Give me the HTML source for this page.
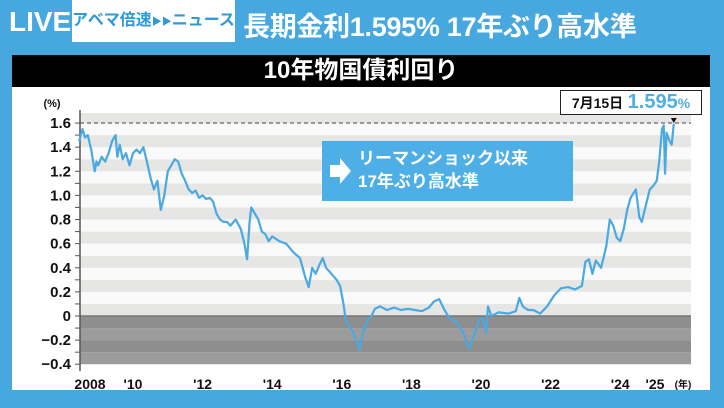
<!DOCTYPE html>
<html><head><meta charset="utf-8">
<style>
body{margin:0;width:724px;height:408px;overflow:hidden;background:#46a8df;font-family:"Liberation Sans","Noto Sans CJK JP",sans-serif;position:relative}
.abs{position:absolute}
</style></head><body>
<div class="abs" style="left:9px;top:6px;font-size:28px;color:#fff;font-weight:bold">LIVE</div>
<div class="abs" style="left:72px;top:0;width:163px;height:42px;background:#fff;color:#2e9bd8;font-size:16px;font-weight:bold;line-height:42px;text-align:center;white-space:nowrap;overflow:hidden">アベマ倍速<span style="font-size:10px">▶▶</span>ニュース</div>
<div class="abs" style="left:243px;top:5px;font-size:27px;color:#fff;font-weight:bold;white-space:nowrap;letter-spacing:-0.3px">長期金利1.595% 17年ぶり高水準</div>
<div class="abs" style="left:12px;top:55px;width:698px;height:32px;background:#000;color:#fff;font-size:24px;font-weight:bold;text-align:center;line-height:32px">10年物国債利回り</div>
<div class="abs" style="left:12px;top:87px;width:698px;height:303px;background:#fff"></div>
<svg class="abs" style="left:0;top:0" width="724" height="408">
<g id="bands"></g><g id="axis"></g><g id="line"></g>
</svg>
<div class="abs" style="left:322px;top:141px;width:251px;height:60px;background:#4eaee6;color:#fff">
<svg class="abs" style="left:8px;top:17px" width="22" height="26"><polygon points="0,7 10,7 10,0 21,13 10,26 10,19 0,19" fill="#fff"/></svg>
<div class="abs" style="left:36px;top:6px;font-size:17px;font-weight:bold;line-height:23px;white-space:nowrap">リーマンショック以来<br>17年ぶり高水準</div>
</div>
<div class="abs" style="left:560px;top:90px;width:140px;height:23px;background:#fff;border:1px solid #222;font-weight:bold;white-space:nowrap;line-height:23px;text-align:center">
<span style="font-size:14px;color:#111">7月15日</span> <span style="font-size:20px;color:#4eaee6">1.595</span><span style="font-size:14px;color:#4eaee6">%</span>
</div>
<script>
const yTicks=[1.6,1.4,1.2,1.0,0.8,0.6,0.4,0.2,0,-0.2,-0.4];
const yTickLabels=["1.6","1.4","1.2","1.0","0.8","0.6","0.4","0.2","0","−0.2","−0.4"];
const xYears=[2008,2010,2012,2014,2016,2018,2020,2022,2024,2025];
const xLabels=["2008","'10","'12","'14","'16","'18","'20","'22","'24","'25"];
const times=[2008.45,2008.55,2008.62,2008.7,2008.8,2008.9,2008.95,2009.0,2009.1,2009.2,2009.3,2009.4,2009.5,2009.55,2009.62,2009.7,2009.8,2009.9,2010.0,2010.1,2010.2,2010.3,2010.4,2010.5,2010.6,2010.7,2010.8,2010.9,2011.0,2011.1,2011.2,2011.3,2011.4,2011.5,2011.6,2011.7,2011.8,2011.9,2012.0,2012.1,2012.2,2012.3,2012.4,2012.5,2012.6,2012.7,2012.8,2012.95,2013.1,2013.2,2013.28,2013.35,2013.4,2013.5,2013.6,2013.7,2013.8,2013.9,2014.0,2014.2,2014.4,2014.6,2014.8,2014.95,2015.05,2015.15,2015.25,2015.35,2015.45,2015.55,2015.7,2015.85,2015.95,2016.05,2016.12,2016.2,2016.3,2016.42,2016.5,2016.55,2016.65,2016.75,2016.85,2016.95,2017.1,2017.3,2017.5,2017.7,2017.9,2018.1,2018.3,2018.5,2018.65,2018.8,2018.95,2019.1,2019.3,2019.45,2019.55,2019.65,2019.75,2019.85,2019.95,2020.05,2020.15,2020.2,2020.3,2020.5,2020.8,2021.0,2021.1,2021.2,2021.35,2021.5,2021.7,2021.9,2022.1,2022.3,2022.5,2022.7,2022.9,2023.0,2023.1,2023.2,2023.3,2023.45,2023.6,2023.7,2023.8,2023.9,2024.0,2024.1,2024.2,2024.3,2024.45,2024.55,2024.62,2024.72,2024.85,2024.95,2025.05,2025.12,2025.2,2025.25,2025.29,2025.33,2025.42,2025.48,2025.54];
const yields=[1.45,1.55,1.48,1.50,1.38,1.20,1.28,1.25,1.32,1.28,1.35,1.45,1.50,1.32,1.42,1.30,1.35,1.25,1.35,1.38,1.35,1.40,1.28,1.15,1.05,1.12,0.88,1.00,1.20,1.25,1.30,1.28,1.18,1.12,1.05,1.02,1.04,0.98,1.00,0.97,0.98,0.95,0.85,0.80,0.78,0.78,0.75,0.80,0.72,0.60,0.47,0.78,0.90,0.85,0.80,0.70,0.68,0.62,0.66,0.62,0.60,0.53,0.48,0.32,0.24,0.40,0.35,0.42,0.48,0.40,0.35,0.30,0.25,0.10,-0.05,-0.08,-0.12,-0.20,-0.28,-0.22,-0.10,-0.03,0.0,0.06,0.08,0.05,0.07,0.05,0.06,0.05,0.04,0.07,0.12,0.14,0.05,-0.02,-0.05,-0.12,-0.18,-0.27,-0.20,-0.12,-0.03,-0.02,-0.14,0.08,0.0,0.03,0.02,0.04,0.15,0.08,0.05,0.05,0.02,0.08,0.17,0.23,0.24,0.22,0.25,0.45,0.47,0.35,0.46,0.40,0.58,0.80,0.75,0.65,0.62,0.72,0.88,0.98,1.05,0.82,0.78,0.90,1.05,1.08,1.12,1.28,1.55,1.58,1.18,1.52,1.45,1.42,1.595];
const NS="http://www.w3.org/2000/svg";
const X=t=>133+(t-2010)*34.8;
const Y=v=>316-v*120.6;
const L=80,R=691,T=113,B=371;
function mk(tag,attrs,parent){const e=document.createElementNS(NS,tag);for(const k in attrs)e.setAttribute(k,attrs[k]);parent.appendChild(e);return e;}
const bands=document.getElementById('bands'),axis=document.getElementById('axis'),line=document.getElementById('line');
for(let i=-4;i<17;i++){const v0=i/10,v1=(i+1)/10;const y0=Math.max(Y(v1),T),y1=Math.min(Y(v0),B);if(y1<=y0)continue;
 let fill;if(i<0)fill=(i%2===0)?'#9c9c9c':'#8e8e8e';else fill=(i%2===0)?'#e6e6e4':'#fafafa';
 const r=mk('rect',{x:L,y:y0,width:R-L,height:y1-y0,fill:fill},bands);
 
 }
const zl=mk('line',{x1:L,x2:R,y1:Y(0),y2:Y(0),stroke:'#777','stroke-width':1.5},axis);


const dl=mk('line',{x1:L,x2:R,y1:Y(1.6),y2:Y(1.6),stroke:'#444','stroke-width':1,'stroke-dasharray':'4,3'},axis);


const ya=mk('line',{x1:L,x2:L,y1:T-3,y2:B,stroke:'#555','stroke-width':1.5},axis);


for(let i=-4;i<=16;i++){mk('line',{x1:L-5,x2:L,y1:Y(i/10),y2:Y(i/10),stroke:'#555','stroke-width':1},axis);}
yTicks.forEach((v,i)=>{const t=mk('text',{x:71,y:Y(v)+5,'text-anchor':'end','font-size':15,'font-weight':'bold',fill:'#111'},axis);t.textContent=yTickLabels[i];
 
 });
const u=mk('text',{x:52,y:107,'font-size':11,'font-weight':'bold',fill:'#111','text-anchor':'middle'},axis);u.textContent='(%)';


xYears.forEach((yr,i)=>{const cx=i===0?90:X(yr);const t=mk('text',{x:cx,y:389,'text-anchor':'middle','font-size':14,'font-weight':'bold',fill:'#111'},axis);t.textContent=xLabels[i];
 
 });
const xu=mk('text',{x:683,y:388,'font-size':10,'font-weight':'bold',fill:'#111','text-anchor':'middle'},axis);xu.textContent='(年)';


const p=mk('polyline',{points:times.map((t,i)=>X(t).toFixed(1)+','+Y(yields[i]).toFixed(1)).join(' '),fill:'none',stroke:'#4aa9e2','stroke-width':2.2,'stroke-linejoin':'round'},line);


const lt=times.length-1;
const mkr=mk('polygon',{points:`${X(times[lt])-3},${Y(1.6)-5} ${X(times[lt])+3},${Y(1.6)-5} ${X(times[lt])},${Y(1.6)}`,fill:'#111'},line);


</script>
</body></html>
